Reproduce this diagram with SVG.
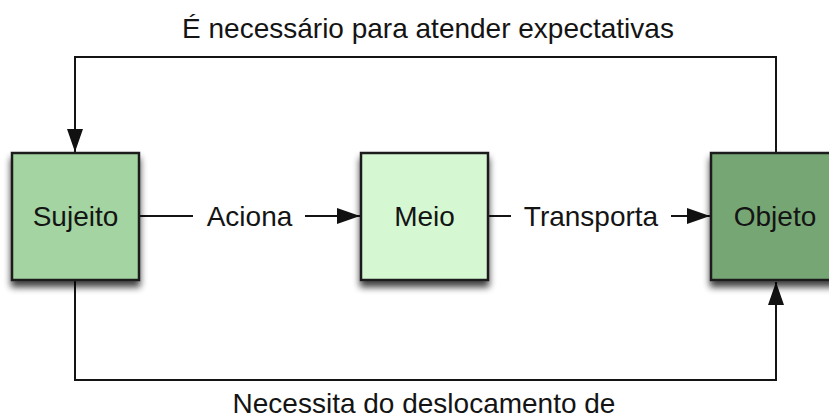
<svg xmlns="http://www.w3.org/2000/svg" width="829" height="419" viewBox="0 0 829 419">
<style>
  .box { stroke: #1c1c1c; stroke-width: 2.5; }
  .lbl { font-family: "Liberation Sans", Arial, sans-serif; font-size: 28px; fill: #141414; }
  .mid { text-anchor: middle; }
  .conn { fill: none; stroke: #141414; stroke-width: 2; }
</style>
<defs>
  <marker id="arr" markerUnits="userSpaceOnUse" markerWidth="24" markerHeight="17" refX="23" refY="8" orient="auto">
    <path d="M0,0 L23,8 L0,16 z" fill="#111"/>
  </marker>
  <filter id="sh" x="-20%" y="-20%" width="140%" height="150%">
    <feGaussianBlur in="SourceAlpha" stdDeviation="3.5"/>
    <feOffset dx="0" dy="6" result="b"/>
    <feComponentTransfer><feFuncA type="linear" slope="0.75"/></feComponentTransfer>
    <feMerge><feMergeNode/><feMergeNode in="SourceGraphic"/></feMerge>
  </filter>
</defs>
<rect width="829" height="419" fill="#ffffff"/>

<text class="lbl mid" x="428" y="38">É necessário para atender expectativas</text>
<text class="lbl mid" x="424" y="413">Necessita do deslocamento de</text>

<g id="connectors">
  <line class="conn" x1="139" y1="216" x2="193" y2="216"/>
  <text class="lbl mid" x="249.5" y="226">Aciona</text>
  <line class="conn" x1="305" y1="216" x2="360" y2="216" marker-end="url(#arr)"/>
  <line class="conn" x1="488" y1="216" x2="511" y2="216"/>
  <text class="lbl mid" x="591" y="226">Transporta</text>
  <line class="conn" x1="671" y1="216" x2="710" y2="216" marker-end="url(#arr)"/>
  <polyline class="conn" points="776,153 776,57 75,57 75,152" marker-end="url(#arr)"/>
  <polyline class="conn" points="75,281 75,380 776,380 776,282" marker-end="url(#arr)"/>
</g>

<g id="sujeito">
  <rect class="box" x="12" y="153" width="127" height="127" fill="#a3d4a1" filter="url(#sh)"/>
  <text class="lbl mid" x="75.5" y="226">Sujeito</text>
</g>
<g id="meio">
  <rect class="box" x="361" y="153" width="127" height="127" fill="#d5f8d3" filter="url(#sh)"/>
  <text class="lbl mid" x="424.5" y="226">Meio</text>
</g>
<g id="objeto">
  <rect class="box" x="711" y="153" width="130" height="127" fill="#77a674" filter="url(#sh)"/>
  <text class="lbl mid" x="775" y="226">Objeto</text>
</g>
</svg>
